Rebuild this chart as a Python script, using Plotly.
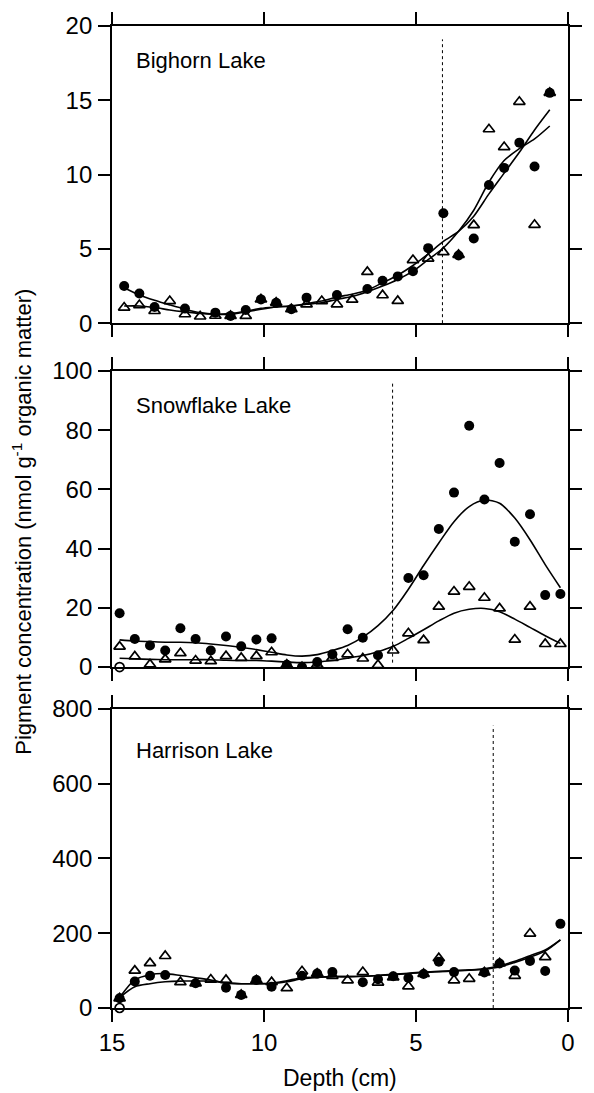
import plotly.graph_objects as go

# ---------------- data ----------------
lakes = ["Bighorn Lake", "Snowflake Lake", "Harrison Lake"]

bighorn_depth = [14.6, 14.1, 13.6, 13.1, 12.6, 12.1, 11.6, 11.1, 10.6, 10.1, 9.6, 9.1, 8.6, 8.1,
                 7.6, 7.1, 6.6, 6.1, 5.6, 5.1, 4.6, 4.1, 3.6, 3.1, 2.6, 2.1, 1.6, 1.1, 0.6]
bighorn_circle = [2.5, 2.0, 1.09, None, 0.98, None, 0.71, 0.49, 0.89, 1.6, 1.38, 0.94, 1.72, None,
                  1.89, None, 2.3, 2.85, 3.15, 3.5, 5.05, 7.4, 4.55, 5.7, 9.3, 10.45, 12.15, 10.55, 15.5]
bighorn_triangle = [1.05, 1.22, 0.82, 1.49, 0.6, 0.45, 0.5, 0.49, 0.49, 1.6, 1.38, 0.94, 1.27, 1.49,
                    1.27, 1.58, 3.45, 1.88, 1.5, 4.25, 4.35, 4.78, 4.6, 6.6, 13.05, 11.85, 14.9, 6.62, 15.5]
bighorn_fit_circle = [2.39, 1.9, 1.54, 1.23, 0.94, 0.71, 0.6, 0.6, 0.76, 0.94, 1.09, 1.16, 1.32, 1.49,
                      1.76, 1.95, 2.23, 2.72, 3.23, 3.88, 4.66, 5.5, 6.18, 7.2, 8.7, 10.1, 11.5, 13.0, 14.36]
bighorn_fit_triangle = [1.16, 1.16, 1.05, 0.89, 0.76, 0.65, 0.6, 0.65, 0.8, 1.0, 1.09, 1.16, 1.27, 1.38,
                        1.6, 1.8, 2.12, 2.5, 2.94, 3.5, 4.28, 5.06, 6.18, 7.6, 9.5, 10.95, 11.75, 12.4, 13.27]

core_depth = [14.75, 14.25, 13.75, 13.25, 12.75, 12.25, 11.75, 11.25, 10.75, 10.25, 9.75, 9.25, 8.75,
              8.25, 7.75, 7.25, 6.75, 6.25, 5.75, 5.25, 4.75, 4.25, 3.75, 3.25, 2.75, 2.25, 1.75,
              1.25, 0.75, 0.25]

snow_circle = [18.2, 9.5, 7.3, 5.6, 13.1, 9.5, 5.6, 10.3, 7.0, 9.3, 9.7, 0.8, 0.0, 1.7, 4.3, 12.8,
               9.9, 4.0, None, 30.1, 31.0, 46.6, 58.9, 81.5, 56.6, 68.9, 42.3, 51.6, 24.3, 24.7]
snow_triangle = [6.9, 3.6, 0.9, 2.6, 4.7, 2.2, 2.0, 3.7, 3.1, 3.7, 5.0, 0.8, 0.0, 0.8, 3.1, 4.3,
                 2.9, 0.7, 5.6, 11.4, 9.1, 20.4, 25.5, 27.1, 23.4, 19.8, 9.3, 20.4, 7.8, 7.8]
snow_fit_circle = [9.2, 8.8, 8.6, 8.4, 8.4, 8.2, 7.8, 7.3, 6.7, 5.9, 5.0, 4.1, 3.7, 4.2, 5.6, 7.3,
                   10.1, 14.0, 19.2, 26.3, 34.3, 41.9, 49.1, 54.2, 56.4, 55.3, 50.3, 43.0, 34.6, 26.8]
snow_fit_triangle = [3.0, 2.8, 2.6, 2.5, 2.5, 2.5, 2.5, 2.3, 2.2, 2.2, 2.0, 1.7, 1.5, 1.7, 2.2, 3.0,
                     3.9, 5.2, 7.0, 9.7, 12.6, 15.6, 18.2, 19.5, 19.8, 18.7, 16.2, 13.4, 10.6, 8.0]

harr_circle = [26, 71, 86, 88, None, 66, None, 54, 35, 75, 57, None, 86, 92, 96, None, 69, 77,
               85, 80, 91, 124, 96, None, 95, 119, 100, 126, 99, 225]
harr_triangle = [26, 100, 120, 139, 69, 66, 76, 75, 35, 74, 69, 53, 98, 92, 86, 74, 96, 68,
                 82, 58, 91, 133, 74, 78, 95, 119, 86, 199, 136, None]
harr_fit_circle = [28, 75, 89, 92, 87, 81, 75, 66, 65, 65, 66, 73, 81, 82, 84, 84, 85, 87, 90, 93,
                   96, 98, 100, 102, 105, 113, 125, 140, 155, 182]
harr_fit_triangle = [28, 57, 65, 70, 72, 72, 72, 68, 65, 65, 65, 70, 78, 82, 84, 84, 85, 87, 89, 92,
                     95, 97, 99, 101, 104, 110, 122, 136, 152, 182]

# isolated open-circle points at the base of two cores
extra_depth = [14.75]
snow_extra = [0.0]
harr_extra = [0.0]

# vertical dotted marker depths and their extents
marker_depth = [4.13, 5.77, 2.46]
marker_top = [19.1, 96.6, 755]
marker_bottom = [0.0, 1.5, 0.0]

y_ranges = [[0, 20], [0, 100], [0, 800]]
y_dticks = [5, 20, 200]
x_ticks = [15, 10, 5, 0]

# ---------------- figure ----------------
W, H = 594, 1093
L, R, T, B = 112, 22, 20, 85
plot_h = H - T - B


def pdom(top_px, bot_px):
    return [(H - B - bot_px) / plot_h, (H - B - top_px) / plot_h]


domains = [pdom(20, 319), pdom(367, 665), pdom(707, 1008)]

fig = go.Figure()

panels = [
    (bighorn_depth, bighorn_circle, bighorn_triangle, bighorn_fit_circle, bighorn_fit_triangle, None, None),
    (core_depth, snow_circle, snow_triangle, snow_fit_circle, snow_fit_triangle, extra_depth, snow_extra),
    (core_depth, harr_circle, harr_triangle, harr_fit_circle, harr_fit_triangle, extra_depth, harr_extra),
]

line_style = dict(color="black", width=1.6, shape="spline", smoothing=0.8)
for i, (dep, circ, tri, fc, ft, ed, ev) in enumerate(panels):
    xa = "x" if i == 0 else f"x{i+1}"
    ya = "y" if i == 0 else f"y{i+1}"
    fig.add_trace(go.Scatter(x=dep, y=fc, mode="lines", line=line_style, xaxis=xa, yaxis=ya,
                             showlegend=False, hoverinfo="skip"))
    fig.add_trace(go.Scatter(x=dep, y=ft, mode="lines", line=line_style, xaxis=xa, yaxis=ya,
                             showlegend=False, hoverinfo="skip"))
    fig.add_trace(go.Scatter(x=dep, y=circ, mode="markers", xaxis=xa, yaxis=ya, showlegend=False,
                             marker=dict(symbol="circle", size=10, color="black")))
    fig.add_trace(go.Scatter(x=dep, y=tri, mode="markers", xaxis=xa, yaxis=ya, showlegend=False,
                             marker=dict(symbol="triangle-up-open", size=10, color="black",
                                         line=dict(width=1.7, color="black"))))
    if ed is not None:
        fig.add_trace(go.Scatter(x=ed, y=ev, mode="markers", xaxis=xa, yaxis=ya, showlegend=False,
                                 cliponaxis=False,
                                 marker=dict(symbol="circle-open", size=9, color="black",
                                             line=dict(width=1.7, color="black"))))
    fig.add_shape(type="line", xref=xa, yref=ya, x0=marker_depth[i], x1=marker_depth[i],
                  y0=marker_bottom[i], y1=marker_top[i],
                  line=dict(color="black", width=1, dash="dot"))

font_main = "Liberation Sans, Arial, Helvetica, sans-serif"
axis_common = dict(showline=True, linewidth=1.8, linecolor="black", mirror="ticks",
                   ticks="outside", ticklen=12, tickwidth=1.5, tickcolor="black",
                   showgrid=False, zeroline=False,
                   tickfont=dict(family=font_main, size=24, color="black"))

layout_axes = {}
for i in range(3):
    xk = "xaxis" if i == 0 else f"xaxis{i+1}"
    yk = "yaxis" if i == 0 else f"yaxis{i+1}"
    ya = "y" if i == 0 else f"y{i+1}"
    xa = "x" if i == 0 else f"x{i+1}"
    layout_axes[xk] = dict(axis_common, domain=[0, 1], range=[15, 0], anchor=ya,
                           tickvals=x_ticks, ticktext=[str(v) for v in x_ticks],
                           showticklabels=(i == 2))
    layout_axes[yk] = dict(axis_common, domain=domains[i], range=y_ranges[i], anchor=xa,
                           dtick=y_dticks[i], tick0=0, ticklabelstandoff=1)

fig.update_layout(**layout_axes)

annotations = []
label_y_px = [55, 402, 749]
for name, ypx in zip(lakes, label_y_px):
    annotations.append(dict(text=name, xref="paper", yref="paper", x=(134 - L) / (W - L - R),
                            y=(H - B - ypx) / plot_h, xanchor="left", yanchor="middle",
                            showarrow=False, font=dict(family=font_main, size=22, color="black")))
annotations.append(dict(text="Depth (cm)", xref="paper", yref="paper", x=0.5,
                        y=(H - B - 1078) / plot_h, xanchor="center", yanchor="middle",
                        showarrow=False, font=dict(family=font_main, size=23, color="black")))
annotations.append(dict(text="Pigment concentration (nmol g<sup>-1</sup> organic matter)",
                        xref="paper", yref="paper", x=(21 - L) / (W - L - R),
                        y=(H - B - 519) / plot_h, xanchor="center", yanchor="middle",
                        textangle=-90, showarrow=False,
                        font=dict(family=font_main, size=22, color="black")))

fig.update_layout(width=W, height=H, margin=dict(l=L, r=R, t=T, b=B),
                  paper_bgcolor="white", plot_bgcolor="white", annotations=annotations)

fig.write_html("out.html")
